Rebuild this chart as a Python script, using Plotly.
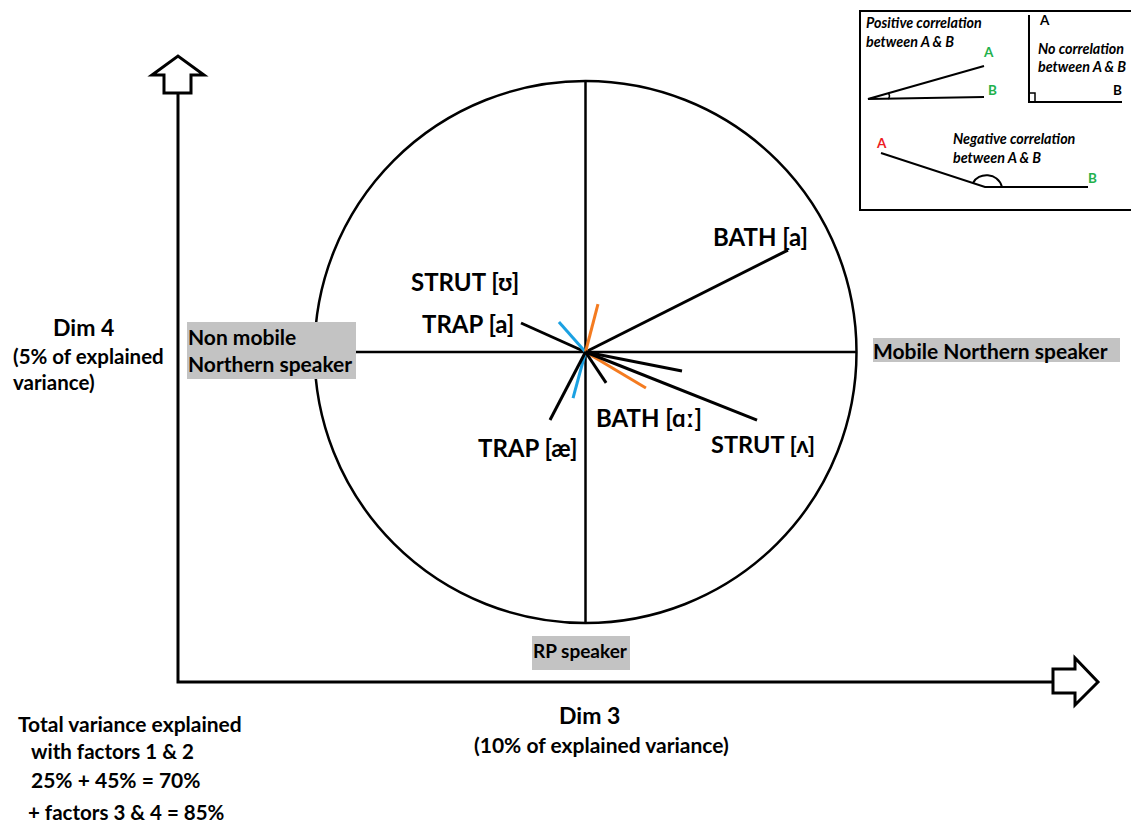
import plotly.graph_objects as go

W, H = 1131, 826
CX, CY, R = 585.5, 352, 271  # correlation circle centre / radius (pixels)
FONT = "Lato"

# loadings on dim 3 (x) and dim 4 (y), in units of the correlation circle
vector_names = ["BATH [a]", "TRAP [a]", "blue 1", "blue 2", "orange 1",
                "orange 2", "black short 1", "black short 2", "TRAP [æ]", "STRUT [ʌ]"]
dim3 = [0.747, -0.238, -0.098, -0.046, 0.046, 0.223, 0.356, 0.076, -0.131, 0.633]
dim4 = [0.376, 0.107, 0.111, -0.170, 0.177, -0.133, -0.070, -0.114, -0.251, -0.251]
vector_colors = ["black", "black", "#1ba1e2", "#1ba1e2", "#f47b20",
                 "#f47b20", "black", "black", "black", "black"]


def px(x, y):
    return x / W, 1 - y / H


def path(points, close=False):
    s = "M " + " L ".join("%.5f,%.5f" % px(x, y) for x, y in points)
    return s + (" Z" if close else "")


fig = go.Figure()

for name, x, y, c in zip(vector_names, dim3, dim4, vector_colors):
    fig.add_trace(go.Scatter(x=[0, x], y=[0, y], mode="lines", name=name,
                             line=dict(color=c, width=3), hoverinfo="skip"))

# correlation circle and its cross
fig.add_shape(type="circle", x0=-1, x1=1, y0=-1, y1=1, line=dict(color="black", width=2.5))
fig.add_shape(type="line", x0=-1, x1=1, y0=0, y1=0, line=dict(color="black", width=2.5), layer="below")
fig.add_shape(type="line", x0=0, x1=0, y0=-1, y1=1, line=dict(color="black", width=2.5), layer="below")

blk = dict(color="black", width=3)
# main axes with block arrows
fig.add_shape(type="path", xref="paper", yref="paper", line=blk,
              path=path([(178, 94), (178, 682), (1053, 682)]))
fig.add_shape(type="path", xref="paper", yref="paper", line=blk,
              path=path([(164, 93), (164, 75), (152, 75), (178, 56), (204, 75),
                         (191, 75), (191, 93)], close=True))
fig.add_shape(type="path", xref="paper", yref="paper", line=blk,
              path=path([(1053, 669), (1075, 669), (1075, 658), (1098, 682),
                         (1075, 705), (1075, 693), (1053, 693)], close=True))

# grey label boxes
for x0, y0, x1, y1 in [(187, 322, 356, 379), (873, 338, 1120, 362), (532, 636, 630, 670)]:
    a0, b0 = px(x0, y1)
    a1, b1 = px(x1, y0)
    fig.add_shape(type="rect", xref="paper", yref="paper", x0=a0, y0=b0, x1=a1, y1=b1,
                  fillcolor="#c3c3c3", line=dict(width=0), layer="above")

# explanation box
lk = dict(color="black", width=2)
fig.add_shape(type="path", xref="paper", yref="paper", line=lk,
              path=path([(1140, 11), (860, 11), (860, 210), (1140, 210)]))
fig.add_shape(type="path", xref="paper", yref="paper", line=lk,
              path=path([(984, 66), (868, 99), (984, 97)]))
fig.add_shape(type="path", xref="paper", yref="paper", line=dict(color="black", width=1.5),
              path="M %.5f,%.5f Q %.5f,%.5f %.5f,%.5f" % (*px(888, 93), *px(891, 96), *px(888, 99)))
fig.add_shape(type="path", xref="paper", yref="paper", line=lk,
              path=path([(1029, 15), (1029, 102), (1122, 102)]))
fig.add_shape(type="path", xref="paper", yref="paper", line=dict(color="black", width=1.5),
              path=path([(1029, 93), (1035, 93), (1035, 102)]))
fig.add_shape(type="path", xref="paper", yref="paper", line=lk,
              path=path([(881, 153), (985, 187), (1088, 187)]))
fig.add_shape(type="path", xref="paper", yref="paper", line=lk,
              path="M %.5f,%.5f C %.5f,%.5f %.5f,%.5f %.5f,%.5f" % (
                  *px(973, 183), *px(978, 172), *px(998, 172), *px(1002, 187)))


def note(text, x, y, size=18, anchor="left", color="black", italic=False):
    t = "<b>%s</b>" % text
    if italic:
        t = "<i>%s</i>" % t
    a, b = px(x, y)
    fig.add_annotation(text=t, x=a, y=b, xref="paper", yref="paper", xanchor=anchor,
                       yanchor="middle", showarrow=False,
                       font=dict(family=FONT, size=size, color=color))


# vector labels
note("BATH [a]", 711, 236, 24)
note("STRUT [ʊ]", 409, 281, 24)
note("TRAP [a]", 420, 323, 24)
note("BATH [ɑː]", 594, 417, 24)
note("TRAP [æ]", 476, 447, 24)
note("STRUT [ʌ]", 709, 444, 23.5)

# grey box labels
note("Non mobile", 186, 336, 21)
note("Northern speaker", 186, 363, 21)
note("Mobile Northern speaker", 871, 350, 21)
note("RP speaker", 580, 650, 19, anchor="center")

# axis titles
note("Dim 4", 83, 327, 23, anchor="center")
note("(5% of explained", 11, 356, 20.5)
note("variance)", 11, 382, 20.5)
note("Dim 3", 589, 715, 23, anchor="center")
note("(10% of explained variance)", 601, 744, 21, anchor="center")

# variance summary
note("Total variance explained", 16, 723, 21)
note("with factors 1 & 2", 29, 751, 20.5)
note("25% + 45% = 70%", 29, 779, 21)
note("+ factors 3 & 4 = 85%", 26, 812, 20.5)

# explanation box texts
green, red = "#22b14c", "#ed1c24"
note("Positive correlation", 864, 23, 14.3, italic=True)
note("between A & B", 864, 42, 14.3, italic=True)
note("A", 988, 52, 13.5, anchor="center", color=green)
note("B", 992, 90, 13.5, anchor="center", color=green)
note("A", 1037, 20, 13.5)
note("No correlation", 1036, 49, 14.3, italic=True)
note("between A & B", 1036, 67, 14.3, italic=True)
note("B", 1117, 90, 13.5, anchor="center")
note("A", 881, 143, 13.5, anchor="center", color=red)
note("Negative correlation", 951, 139, 14.3, italic=True)
note("between A & B", 951, 157, 14.3, italic=True)
note("B", 1092, 178, 13.5, anchor="center", color=green)

fig.update_layout(
    width=W, height=H, margin=dict(l=0, r=0, t=0, b=0),
    showlegend=False, plot_bgcolor="white", paper_bgcolor="white",
    xaxis=dict(range=[-CX / R, (W - CX) / R], visible=False, fixedrange=True),
    yaxis=dict(range=[(CY - H) / R, CY / R], visible=False, fixedrange=True),
)

fig.write_html("out.html", config={"displayModeBar": False},
               post_script="document.body.style.margin='0';document.body.style.overflow='hidden';")
